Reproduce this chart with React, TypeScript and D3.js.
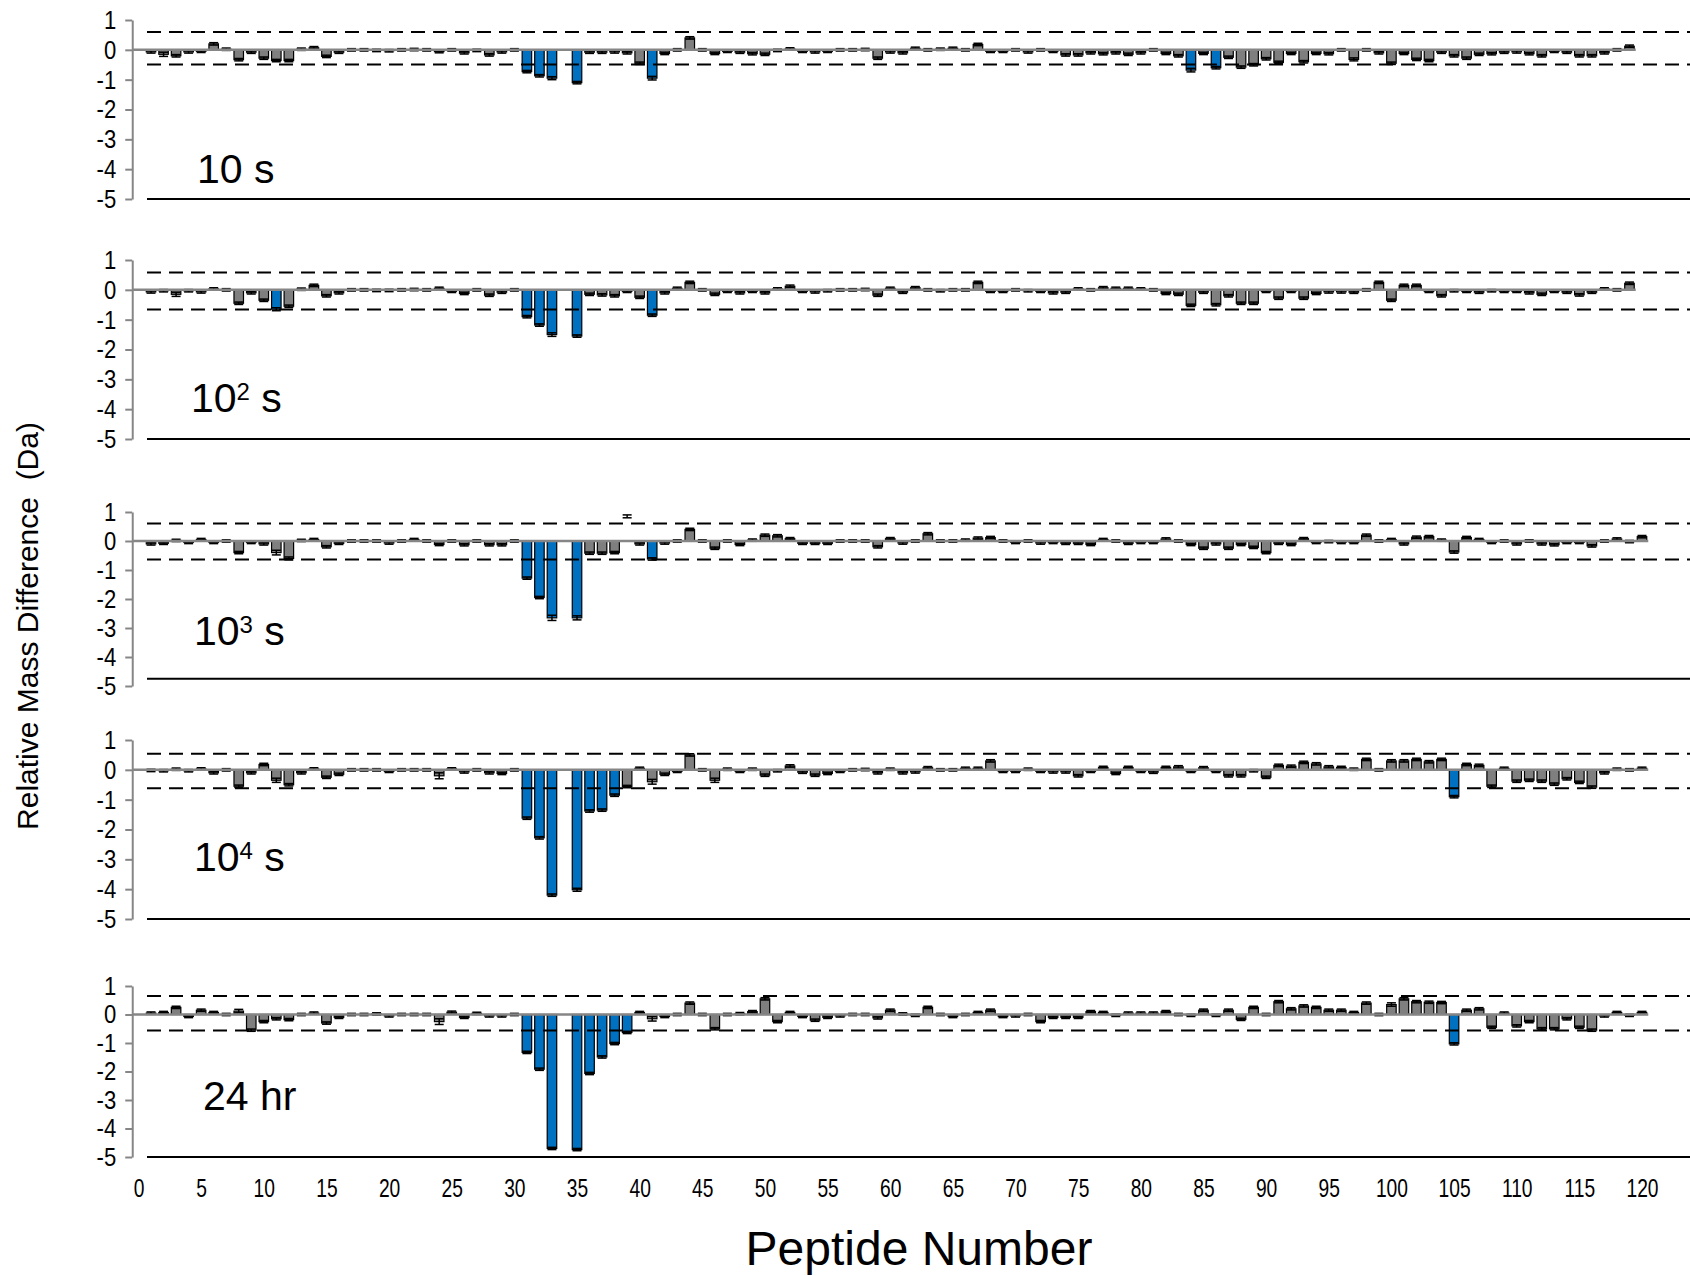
import { useEffect, useRef } from 'react';
import * as d3 from 'd3';

// Peptide axis tick labels and y tick values
const xTicks = [0, 5, 10, 15, 20, 25, 30, 35, 40, 45, 50, 55, 60, 65, 70, 75, 80, 85, 90, 95, 100, 105, 110, 115, 120];
const yTicks = [1, 0, -1, -2, -3, -4, -5];

// Relative mass difference (Da) per peptide, peptide 1 first. null = no bar
const values10s = [
  -0.07, -0.15, -0.2, -0.07, -0.05, 0.2, 0.02, -0.33, -0.08, -0.28,
  -0.36, -0.36, 0.02, 0.07, -0.22, -0.08, 0, 0, -0.02, -0.03,
  0, 0.01, 0, -0.06, 0, -0.1, -0.02, -0.17, -0.07, 0,
  -0.73, -0.87, -0.95, null, -1.1, -0.08, -0.08, -0.07, -0.1, -0.45,
  -0.95, -0.12, 0, 0.4, 0, -0.12, -0.05, -0.08, -0.13, -0.15,
  -0.02, 0.03, -0.05, -0.07, -0.05, 0, 0, 0.01, -0.28, -0.07,
  -0.1, 0.05, 0, 0.02, 0.05, 0, 0.18, -0.05, -0.05, 0,
  -0.07, 0, -0.05, -0.17, -0.17, -0.1, -0.13, -0.1, -0.15, -0.1,
  0, -0.12, -0.2, -0.68, -0.12, -0.6, -0.25, -0.58, -0.5, -0.3,
  -0.42, -0.12, -0.4, -0.12, -0.13, 0, -0.32, 0, -0.1, -0.45,
  -0.12, -0.32, -0.36, -0.08, -0.2, -0.28, -0.15, -0.13, -0.08, -0.07,
  -0.13, -0.2, -0.05, -0.08, -0.2, -0.2, -0.1, 0, 0.12,
];
const values100s = [
  -0.07, -0.03, -0.15, -0.03, -0.07, 0.03, 0, -0.45, -0.1, -0.35,
  -0.65, -0.55, 0.02, 0.15, -0.2, -0.1, 0, 0, -0.02, -0.02,
  0, 0.01, 0, 0.05, -0.05, -0.12, 0, -0.18, -0.08, 0,
  -0.9, -1.18, -1.5, null, -1.55, -0.15, -0.17, -0.2, -0.05, -0.25,
  -0.85, -0.1, 0.05, 0.25, 0, -0.15, -0.05, -0.1, -0.05, -0.1,
  0.03, 0.12, -0.05, -0.07, -0.03, 0, 0, 0.01, -0.18, 0.05,
  -0.08, 0.07, 0, -0.03, 0, 0, 0.25, -0.05, -0.05, 0,
  -0.03, -0.05, -0.1, -0.08, 0.03, 0, 0.07, 0.05, 0.05, 0.03,
  0, -0.12, -0.15, -0.52, -0.08, -0.5, -0.2, -0.45, -0.45, -0.05,
  -0.28, -0.05, -0.28, -0.12, -0.07, -0.07, -0.08, 0, 0.25, -0.35,
  0.15, 0.15, -0.05, -0.2, -0.03, -0.05, -0.08, -0.03, -0.05, -0.05,
  -0.1, -0.15, -0.05, -0.08, -0.17, -0.08, 0.03, 0, 0.22,
];
const values1000s = [
  -0.1, -0.08, 0.02, -0.05, 0.05, -0.05, 0, -0.4, -0.05, -0.1,
  -0.4, -0.6, 0.02, 0.05, -0.2, -0.08, 0, 0, 0, -0.07,
  0, 0.05, 0, -0.12, 0, -0.13, 0, -0.13, -0.13, 0,
  -1.28, -1.95, -2.65, null, -2.65, -0.42, -0.42, -0.4, null, -0.1,
  -0.62, -0.07, 0, 0.4, 0, -0.25, 0, -0.12, 0.03, 0.2,
  0.18, 0.08, -0.08, -0.08, -0.08, 0, 0, 0, -0.2, 0.08,
  -0.07, 0, 0.25, 0, 0, 0.03, 0.1, 0.12, 0, -0.05,
  0, -0.07, -0.05, -0.08, -0.08, -0.12, 0.05, 0, -0.08, -0.05,
  -0.05, 0.07, 0, -0.12, -0.25, -0.1, -0.25, -0.12, -0.22, -0.4,
  -0.08, -0.12, 0.08, -0.05, -0.02, -0.05, -0.05, 0.2, 0, 0.05,
  -0.1, 0.13, 0.15, 0.03, -0.38, 0.12, 0.05, -0.05, 0, -0.1,
  0, -0.1, -0.13, -0.05, -0.05, -0.17, 0, 0.07, -0.02, 0.15,
];
const values10000s = [
  -0.02, -0.03, 0.02, -0.03, 0.03, -0.1, 0, -0.55, -0.1, 0.18,
  -0.35, -0.5, -0.1, 0.03, -0.25, -0.15, 0, 0, 0, -0.05,
  0, 0, 0, -0.2, 0.03, -0.07, 0, -0.1, -0.12, 0,
  -1.62, -2.28, -4.2, null, -4.02, -1.38, -1.35, -0.85, -0.56, 0.05,
  -0.4, -0.15, -0.05, 0.5, 0, -0.35, 0.02, -0.05, 0.02, -0.18,
  -0.03, 0.13, -0.08, -0.18, -0.12, -0.05, 0, 0.01, -0.1, 0.02,
  -0.1, -0.07, 0.07, 0, 0, 0.05, 0.05, 0.3, -0.05, -0.05,
  0.02, -0.05, -0.07, -0.07, -0.2, -0.05, 0.08, -0.12, 0.08, -0.05,
  -0.08, 0.08, 0.1, -0.05, 0.07, -0.05, -0.2, -0.2, -0.03, -0.25,
  0.15, 0.12, 0.25, 0.2, 0.1, 0.08, 0.02, 0.35, 0, 0.3,
  0.3, 0.35, 0.27, 0.35, -0.9, 0.18, 0.15, -0.55, 0.05, -0.38,
  -0.35, -0.38, -0.48, -0.3, -0.42, -0.58, -0.1, 0.02, 0, 0.05,
];
const values24hr = [
  0.05, 0.07, 0.25, -0.07, 0.15, 0.07, 0, 0.12, -0.55, -0.25,
  -0.15, -0.18, 0, 0.05, -0.3, -0.1, 0, 0, 0.02, -0.05,
  0, 0, 0, -0.25, 0.08, -0.1, 0.04, -0.05, -0.05, 0,
  -1.33, -1.92, -4.7, null, -4.74, -2.07, -1.49, -1.02, -0.63, 0.07,
  -0.15, -0.07, 0, 0.4, 0, -0.5, 0, 0.03, 0.1, 0.55,
  -0.25, 0.07, -0.07, -0.2, -0.1, -0.05, 0, 0, -0.12, 0.15,
  0.02, -0.03, 0.25, 0, -0.07, 0, 0.07, 0.15, -0.07, -0.05,
  0, -0.25, -0.1, -0.1, -0.1, 0.1, 0.07, -0.03, 0.05, 0.05,
  0.05, 0.1, 0, -0.03, 0.15, -0.03, 0.15, -0.17, 0.25, 0,
  0.45, 0.2, 0.3, 0.25, 0.15, 0.15, 0.07, 0.4, 0, 0.35,
  0.55, 0.45, 0.43, 0.42, -1.03, 0.15, 0.2, -0.45, 0.05, -0.4,
  -0.25, -0.5, -0.5, -0.15, -0.45, -0.55, -0.05, 0.07, -0.03, 0.07,
];

// peptides drawn in blue (significant)
const blue10s = [31, 32, 33, 35, 41, 84, 86];
const blue100s = [11, 31, 32, 33, 35, 41];
const blue1000s = [31, 32, 33, 35, 41];
const blue10000s = [31, 32, 33, 35, 36, 37, 38, 105];
const blue24hr = [31, 32, 33, 35, 36, 37, 38, 39, 105];

// error bars: default half-width plus the wider ones [peptide, error]
const errDefault = 0.04;
const err10s = [[2, 0.07], [33, 0.05], [41, 0.06], [84, 0.06], [97, 0.05]];
const err100s = [[3, 0.07], [33, 0.06], [11, 0.05]];
const err1000s = [[11, 0.08], [12, 0.05], [33, 0.09], [35, 0.07]];
const err10000s = [[11, 0.07], [24, 0.1], [41, 0.08], [46, 0.07], [35, 0.05]];
const err24hr = [[8, 0.06], [24, 0.1], [41, 0.08], [100, 0.06]];
// error bar with no visible bar body [peptide, value, error]
const float1000s = [[39, 0.85, 0.05]];

// significance thresholds (dashed) and bottom reference line
const upper = [0.6, 0.58, 0.6, 0.54, 0.65];
const lower = [-0.49, -0.66, -0.64, -0.62, -0.56];
const baseLine = [-5, -5, -4.75, -5, -5];

const panelLabels = [
  { main: '10', sup: '', tail: ' s' },
  { main: '10', sup: '2', tail: ' s' },
  { main: '10', sup: '3', tail: ' s' },
  { main: '10', sup: '4', tail: ' s' },
  { main: '24 hr', sup: '', tail: '' },
];

// layout (pixels)
const panelTop = [20, 260, 512, 740, 986];
const panelBottom = [199, 439, 686, 919, 1157];
const labelPos = [[197, 183], [191, 412], [194, 645], [194, 871], [203, 1110]];

const BLUE = '#0070C0';
const GRAY = '#7F7F7F';
const AXIS = '#868686';
const FONT = '"Liberation Sans", Arial, sans-serif';

export default function App() {
  const svgRef = useRef(null);

  useEffect(() => {
    document.body.style.margin = '0';
    const svg = d3.select(svgRef.current);
    svg.selectAll('*').remove();

    const x = d3.scaleLinear().domain([0, 120]).range([138.5, 1642]);
    const axisX = x(-0.5);
    const barW = 9.5;

    const panels = [
      { values: values10s, blue: blue10s, errs: err10s, floats: [] },
      { values: values100s, blue: blue100s, errs: err100s, floats: [] },
      { values: values1000s, blue: blue1000s, errs: err1000s, floats: float1000s },
      { values: values10000s, blue: blue10000s, errs: err10000s, floats: [] },
      { values: values24hr, blue: blue24hr, errs: err24hr, floats: [] },
    ];

    panels.forEach((p, i) => {
      const y = d3.scaleLinear().domain([-5, 1]).range([panelBottom[i], panelTop[i]]);
      const g = svg.append('g');
      const errMap = new Map(p.errs.map(d => [d[0], d[1]]));
      const rows = p.values
        .map((v, k) => ({ n: k + 1, v, e: errMap.get(k + 1) ?? errDefault }))
        .filter(d => d.v !== null);
      const lastN = p.values.length;

      // bars
      g.selectAll('rect.bar')
        .data(rows)
        .join('rect')
        .attr('class', 'bar')
        .attr('x', d => x(d.n) - barW / 2)
        .attr('y', d => y(Math.max(0, d.v)))
        .attr('width', barW)
        .attr('height', d => Math.abs(y(d.v) - y(0)))
        .attr('fill', d => (p.blue.includes(d.n) ? BLUE : GRAY))
        .attr('stroke', '#000')
        .attr('stroke-width', 1.2);

      // error bars
      const errRows = rows.concat(p.floats.map(f => ({ n: f[0], v: f[1], e: f[2] })));
      const eb = g.selectAll('g.err').data(errRows).join('g').attr('class', 'err')
        .attr('stroke', '#000').attr('stroke-width', 1.5);
      eb.append('line')
        .attr('x1', d => x(d.n)).attr('x2', d => x(d.n))
        .attr('y1', d => y(d.v - d.e)).attr('y2', d => y(d.v + d.e));
      eb.append('line')
        .attr('x1', d => x(d.n) - 4.5).attr('x2', d => x(d.n) + 4.5)
        .attr('y1', d => y(d.v - d.e)).attr('y2', d => y(d.v - d.e));
      eb.append('line')
        .attr('x1', d => x(d.n) - 4.5).attr('x2', d => x(d.n) + 4.5)
        .attr('y1', d => y(d.v + d.e)).attr('y2', d => y(d.v + d.e));

      // zero (category axis) line
      g.append('line')
        .attr('x1', axisX).attr('x2', x(lastN + 0.5))
        .attr('y1', y(0)).attr('y2', y(0))
        .attr('stroke', AXIS).attr('stroke-width', 2.5);

      // dashed thresholds
      [upper[i], lower[i]].forEach(t => {
        g.append('line')
          .attr('x1', 147).attr('x2', 1690)
          .attr('y1', y(t)).attr('y2', y(t))
          .attr('stroke', '#000').attr('stroke-width', 2)
          .attr('stroke-dasharray', '14,8');
      });

      // bottom solid line
      g.append('line')
        .attr('x1', 147).attr('x2', 1690)
        .attr('y1', y(baseLine[i])).attr('y2', y(baseLine[i]))
        .attr('stroke', '#000').attr('stroke-width', 2);

      // y axis
      const ya = g.append('g')
        .attr('transform', `translate(${axisX},0)`)
        .call(d3.axisLeft(y).tickValues(yTicks).tickSizeInner(7).tickSizeOuter(0).tickPadding(9)
          .tickFormat(d => String(d)));
      ya.select('.domain').attr('stroke', AXIS).attr('stroke-width', 2);
      ya.selectAll('.tick line').attr('stroke', AXIS).attr('stroke-width', 2);
      ya.selectAll('.tick text')
        .attr('font-family', FONT).attr('font-size', 26).attr('fill', '#000')
        .attr('x', -16 / 0.85).attr('transform', 'scale(0.85,1)');

      // panel label
      const lab = panelLabels[i];
      const t = g.append('text')
        .attr('x', labelPos[i][0]).attr('y', labelPos[i][1])
        .attr('font-family', FONT).attr('font-size', 41).attr('fill', '#000');
      t.append('tspan').text(lab.main);
      if (lab.sup) {
        t.append('tspan').attr('font-size', 24).attr('dy', -12).text(lab.sup);
        t.append('tspan').attr('dy', 12).style('white-space', 'pre').text(lab.tail);
      } else if (lab.tail) {
        t.append('tspan').style('white-space', 'pre').text(lab.tail);
      }
    });

    // x tick labels
    const xa = svg.append('g')
      .attr('transform', 'translate(0,1179)')
      .call(d3.axisBottom(x).tickValues(xTicks).tickSize(0).tickPadding(0).tickFormat(d => String(d)));
    xa.select('.domain').remove();
    xa.selectAll('.tick text')
      .attr('font-family', FONT).attr('font-size', 26).attr('fill', '#000')
      .attr('transform', 'scale(0.74,1)');

    // axis titles
    svg.append('text')
      .attr('x', 919).attr('y', 1265)
      .attr('text-anchor', 'middle')
      .attr('font-family', FONT).attr('font-size', 48).attr('fill', '#000')
      .text('Peptide Number');

    svg.append('text')
      .attr('transform', 'translate(38,626) rotate(-90)')
      .attr('text-anchor', 'middle')
      .attr('font-family', FONT).attr('font-size', 30).attr('fill', '#000')
      .style('white-space', 'pre')
      .text('Relative Mass Difference  (Da)');
  }, []);

  return (
    <div style={{ width: 1690, height: 1276, background: '#fff' }}>
      <svg ref={svgRef} width={1690} height={1276} style={{ display: 'block' }} />
    </div>
  );
}
